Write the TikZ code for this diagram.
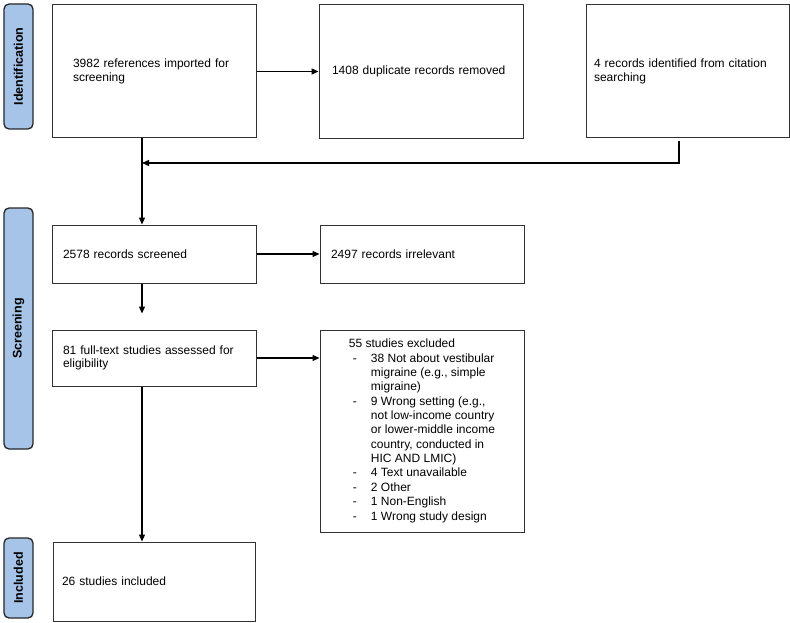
\documentclass[tikz,border=0pt]{standalone}
\usepackage{fontspec}
\setmainfont{Liberation Sans}
\usetikzlibrary{arrows.meta,positioning}

\renewcommand{\arraystretch}{1.08}
\definecolor{phaseblue}{RGB}{165,196,232}
\definecolor{boxline}{RGB}{50,50,50}
\tikzset{
  stagebox/.style={draw=boxline, line width=1pt, minimum width=204pt, align=left, inner sep=0pt,
    font=\fontsize{12}{13.3}\selectfont},
  phase/.style={draw=black!85, line width=1.3pt, fill=phaseblue, rounded corners=5pt, rotate=90,
    minimum height=29pt, inner sep=0pt, font=\fontsize{12.5}{14}\selectfont\bfseries},
}

\begin{document}
\begin{tikzpicture}[x=1pt, y=-1pt, >={Triangle[length=7pt,width=6pt]}]
    \useasboundingbox (0,0) rectangle (790,623);
    % phases
    \node[phase, minimum width=125pt] (phaseid) at (18.5,66.5) {Identification};
    \node[phase, minimum width=241pt] (phasescr) at (18.5,328.5) {Screening};
    \node[phase, minimum width=80pt] (phaseinc) at (18.5,578) {Included};

    % boxes
    \node[stagebox, minimum height=133pt, text width=162pt] (imported) at (154,71.5) {3982 references imported for screening};
    \node[stagebox, minimum height=134pt, text width=178pt, right=62pt of imported] (duplicates) {1408 duplicate records removed};
    \node[stagebox, minimum width=203pt, minimum height=133pt, text width=187pt, right=62pt of duplicates] (citation) {4 records identified from citation searching};
    \node[stagebox, minimum height=58pt, text width=182pt, below=86pt of imported] (screened) {2578 records screened};
    \node[stagebox, minimum height=58pt, text width=182pt, right=63pt of screened] (irrelevant) {2497 records irrelevant};
    \node[stagebox, minimum height=56pt, text width=182pt, below=46pt of screened] (fulltext) {81 full-text studies assessed for eligibility};
    \node[stagebox, minimum height=202pt, anchor=north west] (excluded) at ([xshift=63pt]fulltext.north east) {%
      \begin{tabular}{@{\hspace{4pt}}p{18pt}@{}l@{}}
        \multicolumn{2}{@{}l@{}}{55 studies excluded}\\
        - & 38 Not about vestibular\\
          & migraine (e.g., simple\\
          & migraine)\\
        - & 9 Wrong setting (e.g.,\\
          & not low-income country\\
          & or lower-middle income\\
          & country, conducted in\\
          & HIC AND LMIC)\\
        - & 4 Text unavailable\\
        - & 2 Other\\
        - & 1 Non-English\\
        - & 1 Wrong study design
      \end{tabular}};
    \node[stagebox, minimum width=202pt, minimum height=79pt, text width=184pt, below=155pt of fulltext] (included) {26 studies included};

    \coordinate (spine) at (142,163);
    \coordinate (turn) at (679,163);

    \path[->, line width=1.2pt]
    (imported.east) edge (imported.east -| duplicates.west)
    (imported.south -| spine) edge (screened.north -| spine)
    (screened.east) edge (screened.east -| irrelevant.west)
    (screened.south -| spine) edge ([yshift=16pt]fulltext.north -| spine)
    (fulltext.east) edge (fulltext.east -| excluded.west)
    (fulltext.south -| spine) edge (included.north -| spine)
    ;
    \draw[->, line width=1.2pt] ([yshift=-3pt]citation.south -| turn) -- (turn) -- (spine);
\end{tikzpicture}
\end{document}
